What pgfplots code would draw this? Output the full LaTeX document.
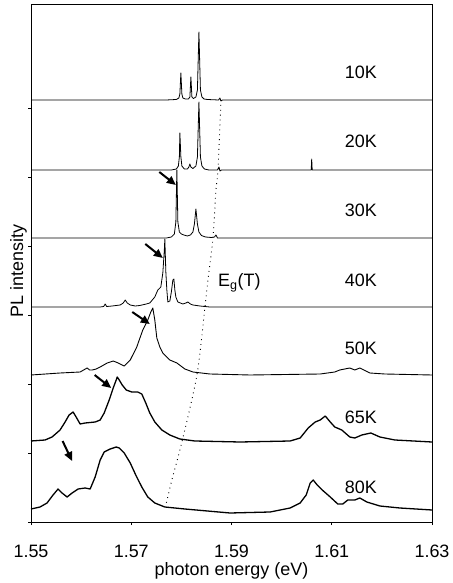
\documentclass[border=0pt]{standalone}
\usepackage{fontspec}
\setmainfont{Liberation Sans}
\usepackage{pgfplots}
\pgfplotsset{compat=1.18}
\usetikzlibrary{arrows.meta}
\begin{document}
\fontsize{18}{21}\selectfont
\begin{tikzpicture}
\begin{axis}[
  scale only axis, width=401bp, height=518bp,
  xmin=1.55, xmax=1.63, ymin=0, ymax=518,
  xtick={1.55,1.57,1.59,1.61,1.63},
  xticklabels={1.55,1.57,1.59,1.61,1.63},
  ytick={0,69,138,207,276,345,414}, yticklabels={},
  tick pos=left, tick align=outside, major tick length=3bp,
  axis line style={line width=0.9bp},
  every tick/.style={black, line width=0.7bp},
  xticklabel style={font=\fontsize{18}{21}\selectfont, inner sep=0pt, yshift=-20bp},
  xlabel={photon energy (eV)}, ylabel={PL intensity},
  label style={font=\fontsize{18}{21}\selectfont},
  xlabel style={at={(rel axis cs:0.5,0)}, anchor=base, yshift=-53bp, inner sep=0pt},
  ylabel style={at={(rel axis cs:0,0.485)}, anchor=south, yshift=4bp, inner sep=0pt},
  clip=false,
  every axis plot/.append style={black, line join=round},
]
\coordinate (bl) at (rel axis cs:0,0);
\coordinate (tr) at (rel axis cs:1,1);
% 10K
\addplot[line width=0.8bp] coordinates {(1.5500,422)(1.5770,422)(1.5790,422.5)(1.5795,424)(1.5797,428)(1.5799,449)(1.5801,428)(1.5803,424)(1.5808,423)(1.5814,423)(1.5817,425)(1.5819,445)(1.5821,425)(1.5824,423.5)(1.5829,425)(1.5832,432)(1.5835,490)(1.5838,432)(1.5841,425)(1.5845,423)(1.5852,422.5)(1.5874,422)(1.5877,424)(1.5879,421)(1.5882,422)(1.6300,422)};
% 20K
\addplot[line width=0.8bp] coordinates {(1.5500,352)(1.5780,352)(1.5790,353)(1.5794,356)(1.5796,365)(1.5797,389)(1.5799,365)(1.5801,356)(1.5806,353)(1.5812,353)(1.5815,355)(1.5817,358)(1.5819,355)(1.5823,353.5)(1.5829,356)(1.5832,365)(1.5835,420)(1.5838,365)(1.5841,356)(1.5846,353)(1.5855,352)(1.5872,352)(1.5875,355)(1.5877,351)(1.5880,352)(1.6059,352)(1.6060,363)(1.6061,352)(1.6300,352)};
% 30K
\addplot[line width=0.8bp] coordinates {(1.5500,284)(1.5770,284)(1.5780,285)(1.5786,288)(1.5789,300)(1.5791,352)(1.5793,300)(1.5796,290)(1.5800,288)(1.5805,287)(1.5812,286)(1.5818,287)(1.5823,290)(1.5826,298)(1.5829,313)(1.5832,298)(1.5835,290)(1.5840,286.5)(1.5848,285)(1.5860,284.5)(1.5866,285)(1.5869,287)(1.5872,284)(1.5880,284)(1.6300,284)};
% 40K
\addplot[line width=0.8bp] coordinates {(1.5500,215)(1.5638,215)(1.5645,215.5)(1.5648,218)(1.5651,215.5)(1.5662,216)(1.5678,217)(1.5684,219)(1.5688,222)(1.5692,219)(1.5698,217)(1.5708,216)(1.5717,216.5)(1.5730,218)(1.5737,219)(1.5747,225)(1.5753,232)(1.5759,235)(1.5763,249)(1.5766,272)(1.5767,283)(1.5769,250)(1.5771,232)(1.5773,220)(1.5777,221)(1.5780,230)(1.5783,242)(1.5785,243)(1.5787,232)(1.5789,225)(1.5793,220)(1.5803,218)(1.5809,219)(1.5813,220)(1.5818,218)(1.5823,217)(1.5837,216)(1.5857,215)(1.6300,215)};
% 50K
\addplot[line width=0.9bp] coordinates {(1.5500,147)(1.5558,149)(1.5598,150)(1.5605,152)(1.5612,154)(1.5617,152)(1.5622,152)(1.5630,153)(1.5638,155)(1.5652,159)(1.5664,161)(1.5674,159)(1.5686,156)(1.5698,162)(1.5711,175)(1.5723,192)(1.5733,202)(1.5739,210)(1.5743,214)(1.5747,202)(1.5751,184)(1.5757,175)(1.5763,169)(1.5777,162)(1.5791,159)(1.5807,153)(1.5823,150)(1.5857,148)(1.5937,147)(1.6077,148)(1.6106,150)(1.6116,152)(1.6136,154)(1.6146,152)(1.6156,154)(1.6176,149)(1.6206,148)(1.6300,147)};
% 65K
\addplot[line width=1.3bp] coordinates {(1.5500,81)(1.5528,82)(1.5542,85)(1.5558,92)(1.5568,100)(1.5576,107)(1.5584,110)(1.5590,105)(1.5598,98)(1.5608,99)(1.5628,100)(1.5638,102)(1.5646,109)(1.5656,122)(1.5664,134)(1.5670,142)(1.5672,145)(1.5676,142)(1.5682,137)(1.5690,132)(1.5701,130)(1.5713,130)(1.5721,128)(1.5729,119)(1.5737,109)(1.5747,100)(1.5761,92)(1.5777,87)(1.5797,83)(1.5827,81)(1.5917,80)(1.6017,81)(1.6037,84)(1.6053,94)(1.6067,100)(1.6077,102)(1.6087,106)(1.6097,100)(1.6106,95)(1.6120,92)(1.6136,85)(1.6146,84)(1.6160,87)(1.6178,89)(1.6196,85)(1.6226,82)(1.6300,80)};
% 80K
\addplot[line width=1.3bp] coordinates {(1.5500,13)(1.5518,15)(1.5532,19)(1.5544,27)(1.5554,33)(1.5562,29)(1.5572,25)(1.5582,29)(1.5594,33)(1.5608,34)(1.5618,33)(1.5628,45)(1.5638,62)(1.5646,70)(1.5658,73)(1.5670,75)(1.5676,74)(1.5686,69)(1.5698,59)(1.5709,47)(1.5721,35)(1.5733,25)(1.5747,19)(1.5767,15)(1.5807,13)(1.5897,9)(1.5977,10)(1.6017,14)(1.6037,19)(1.6049,27)(1.6057,39)(1.6063,42)(1.6071,37)(1.6081,32)(1.6097,25)(1.6112,18)(1.6122,18)(1.6132,22)(1.6146,22)(1.6156,24)(1.6170,20)(1.6196,16)(1.6236,14)(1.6300,12)};
% Eg(T)
\addplot[line width=0.9bp, dash pattern=on 0.9bp off 4bp, smooth] coordinates {(1.5879,422)(1.5873,352)(1.5869,332)(1.5863,284)(1.5853,242)(1.5847,215)(1.5831,147)(1.5801,80)(1.5781,42)(1.5769,17)};
% arrows
\draw[-{Triangle[length=9bp,width=8bp]}, line width=2bp] (axis cs:1.5756,350) -- (axis cs:1.5789,337);
\draw[-{Triangle[length=9bp,width=8bp]}, line width=2bp] (axis cs:1.5728,278) -- (axis cs:1.5763,264);
\draw[-{Triangle[length=9bp,width=8bp]}, line width=2bp] (axis cs:1.5702,210) -- (axis cs:1.5737,198);
\draw[-{Triangle[length=9bp,width=8bp]}, line width=2bp] (axis cs:1.5627,147) -- (axis cs:1.5660,134);
\draw[-{Triangle[length=9bp,width=8bp]}, line width=2bp] (axis cs:1.5563,81) -- (axis cs:1.5582,61);
% labels
\node[anchor=base, inner sep=0pt] at (axis cs:1.6158,443) {10K};
\node[anchor=base, inner sep=0pt] at (axis cs:1.6158,374) {20K};
\node[anchor=base, inner sep=0pt] at (axis cs:1.6158,305) {30K};
\node[anchor=base, inner sep=0pt] at (axis cs:1.6158,235) {40K};
\node[anchor=base, inner sep=0pt] at (axis cs:1.6158,167) {50K};
\node[anchor=base, inner sep=0pt] at (axis cs:1.6158,98) {65K};
\node[anchor=base, inner sep=0pt] at (axis cs:1.6158,29) {80K};
\node[anchor=base west, inner sep=0pt] at (axis cs:1.5873,235) {E\textsubscript{g}(T)};
\end{axis}
\pgfresetboundingbox
\path ([shift={(-31bp,-61bp)}]bl) rectangle ([shift={(21bp,4bp)}]tr);
\end{tikzpicture}
\end{document}
